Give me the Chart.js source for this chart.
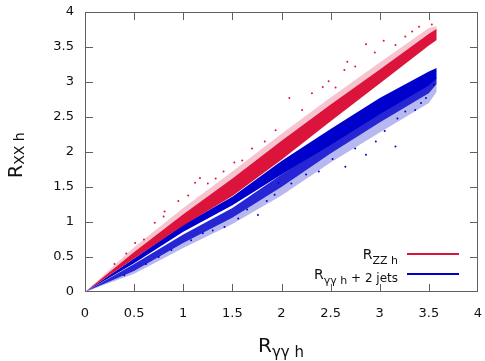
<!DOCTYPE html>
<html>
<head>
<meta charset="utf-8">
<script src="https://cdn.jsdelivr.net/npm/chart.js@4/dist/chart.umd.min.js"></script>
<style>
  body { margin: 0; background: #fff; }
  #wrap { width: 485px; height: 361px; }
</style>
</head>
<body>
<div id="wrap"><canvas id="ratios" width="485" height="361"></canvas></div>
<script>
// band edges, at these R_yy values
const bandX = [0, 0.5, 1, 1.5, 2, 2.5, 3, 3.5, 3.58];

// R_ZZ h : dense band and its sparse upper fringe
const zzLow = [0, 0.48, 0.95, 1.37, 1.89, 2.44, 2.98, 3.52, 3.60];
const zzHigh = [0, 0.57, 1.11, 1.62, 2.16, 2.68, 3.18, 3.69, 3.76];
const zzFringe = [0, 0.64, 1.20, 1.72, 2.26, 2.78, 3.28, 3.77, 3.80];

// R_yy h + 2 jets : upper strand, lower strand, sparse lower fringe
const jjUpperLow = [0, 0.41, 0.86, 1.24, 1.68, 2.10, 2.54, 2.95, 3.05];
const jjUpperHigh = [0, 0.48, 0.96, 1.36, 1.87, 2.33, 2.77, 3.15, 3.20];
const jjLowerLow = [0, 0.30, 0.70, 1.06, 1.50, 1.98, 2.42, 2.84, 2.97];
const jjLowerHigh = [0, 0.40, 0.82, 1.20, 1.68, 2.12, 2.55, 2.96, 3.06];
const jjFringe = [0, 0.26, 0.63, 0.97, 1.38, 1.85, 2.28, 2.70, 2.86];

// scattered points away from the bands
const zzOutliers = [[0.30,0.40],[0.42,0.55],[0.51,0.70],[0.60,0.75],[0.71,0.99],[0.80,1.08],[0.81,1.15],
  [0.95,1.30],[1.05,1.38],[1.12,1.56],[1.17,1.63],[1.25,1.55],[1.33,1.62],[1.41,1.72],[1.52,1.85],
  [1.60,1.88],[1.70,2.05],[1.83,2.15],[1.94,2.31],[2.08,2.77],[2.21,2.60],[2.31,2.84],[2.42,2.93],
  [2.48,3.01],[2.55,2.92],[2.64,3.17],[2.67,3.29],[2.75,3.22],[2.86,3.54],[2.95,3.42],[3.04,3.59],
  [3.16,3.53],[3.26,3.65],[3.33,3.72],[3.40,3.79],[3.53,3.82]];
const jjOutliers = [[0.40,0.24],[0.62,0.40],[0.75,0.50],[0.88,0.60],[1.08,0.74],[1.20,0.84],[1.30,0.88],
  [1.42,0.93],[1.56,1.05],[1.65,1.18],[1.76,1.10],[1.85,1.30],[1.93,1.39],[1.97,1.56],[2.10,1.55],
  [2.25,1.68],[2.38,1.72],[2.52,1.90],[2.65,1.79],[2.75,2.05],[2.86,1.96],[2.96,2.15],[3.05,2.30],
  [3.16,2.08],[3.18,2.48],[3.26,2.58],[3.36,2.60],[3.47,2.77],[3.55,2.96],[3.42,2.70]];

const axisTicks = [0, 0.5, 1, 1.5, 2, 2.5, 3, 3.5, 4];

const RED = "#dc143c";
const BLUE = "#0000cd";

function edge(ys) {
  return bandX.map((x, i) => ({ x: x, y: ys[i] }));
}
function band(ys, fill, color) {
  return {
    type: "line",
    data: edge(ys),
    fill: fill,
    backgroundColor: color,
    borderWidth: 0,
    pointRadius: 0,
    tension: 0,
  };
}
function dots(list, label, color) {
  return {
    type: "scatter",
    label: label,
    data: list.map((p) => ({ x: p[0], y: p[1] })),
    backgroundColor: color,
    borderWidth: 0,
    pointRadius: 1,
  };
}

// frame, inward ticks, titles with subscripts and the legend
const decor = {
  id: "decor",
  afterDraw(chart) {
    const c = chart.ctx;
    const a = chart.chartArea;
    const xs = chart.scales.x, ys = chart.scales.y;
    c.save();
    c.strokeStyle = "#606060";
    c.lineWidth = 1;
    c.strokeRect(a.left + 0.5, a.top + 0.5, a.right - a.left - 1, a.bottom - a.top - 1);
    c.beginPath();
    axisTicks.slice(1, -1).forEach((v) => {
      const px = Math.round(xs.getPixelForValue(v)) + 0.5;
      c.moveTo(px, a.bottom); c.lineTo(px, a.bottom - 8);
      c.moveTo(px, a.top); c.lineTo(px, a.top + 8);
      const py = Math.round(ys.getPixelForValue(v)) + 0.5;
      c.moveTo(a.left, py); c.lineTo(a.left + 8, py);
      c.moveTo(a.right, py); c.lineTo(a.right - 8, py);
    });
    c.stroke();

    c.fillStyle = "#111";
    c.textBaseline = "alphabetic";
    c.textAlign = "left";
    const fam = "'DejaVu Sans', sans-serif";

    // x title
    c.font = "20px " + fam;
    c.fillText("R", 258, 352);
    let w = c.measureText("R").width;
    c.font = "15px " + fam;
    c.fillText("γγ h", 258 + w, 357);

    // y title
    c.save();
    c.translate(22, 178);
    c.rotate(-Math.PI / 2);
    c.font = "19px " + fam;
    c.fillText("R", 0, 0);
    w = c.measureText("R").width;
    c.font = "14px " + fam;
    c.fillText("XX h", w, 2);
    c.restore();

    // legend
    const right = 398;
    c.font = "11px " + fam;
    let sub = c.measureText("ZZ h").width;
    c.font = "14px " + fam;
    let rw = c.measureText("R").width;
    c.fillText("R", right - sub - rw, 259);
    c.font = "11px " + fam;
    c.fillText("ZZ h", right - sub, 264);

    c.font = "12px " + fam;
    const tail = " + 2 jets";
    const tw = c.measureText(tail).width;
    c.font = "11px " + fam;
    sub = c.measureText("γγ h").width;
    c.font = "14px " + fam;
    c.fillText("R", right - tw - sub - rw, 279);
    c.font = "11px " + fam;
    c.fillText("γγ h", right - tw - sub, 284);
    c.font = "12px " + fam;
    c.fillText(tail, right - tw, 282);

    c.lineWidth = 2;
    c.strokeStyle = RED;
    c.beginPath(); c.moveTo(407, 254); c.lineTo(459, 254); c.stroke();
    c.strokeStyle = BLUE;
    c.beginPath(); c.moveTo(407, 274); c.lineTo(459, 274); c.stroke();
    c.restore();
  },
};

new Chart(document.getElementById("ratios"), {
  type: "scatter",
  data: {
    datasets: [
      dots(zzOutliers, "R_ZZ h", RED),
      dots(jjOutliers, "R_γγ h + 2 jets", BLUE),
      band(zzLow, false, RED),
      band(zzHigh, "-1", RED),
      band(zzFringe, "-1", "rgba(220,20,60,0.25)"),
      band(jjUpperLow, false, BLUE),
      band(jjUpperHigh, "-1", BLUE),
      band(jjLowerLow, false, BLUE),
      band(jjLowerHigh, "-1", "rgba(0,0,205,0.85)"),
      band(jjFringe, "-2", "rgba(0,0,205,0.28)"),
    ],
  },
  options: {
    responsive: false,
    animation: false,
    layout: { padding: { top: 12, right: 7, left: 0, bottom: 0 } },
    plugins: { legend: { display: false }, tooltip: { enabled: false } },
    scales: {
      x: {
        type: "linear",
        min: 0,
        max: 4,
        grid: { display: false, drawTicks: false },
        border: { display: false },
        ticks: {
          stepSize: 0.5, padding: 14, color: "#111",
          font: { family: "'DejaVu Sans'", size: 13 },
          callback: (v) => String(v),
        },
        afterFit: (s) => { s.height = 69; s.paddingLeft = 0; s.paddingRight = 0; },
      },
      y: {
        type: "linear",
        min: 0,
        max: 4,
        grid: { display: false, drawTicks: false },
        border: { display: false },
        ticks: {
          stepSize: 0.5, padding: 11, color: "#111",
          font: { family: "'DejaVu Sans'", size: 13 },
          callback: (v) => String(v),
        },
        afterFit: (s) => { s.width = 85; s.paddingTop = 0; s.paddingBottom = 0; },
      },
    },
  },
  plugins: [decor],
});
</script>
</body>
</html>
